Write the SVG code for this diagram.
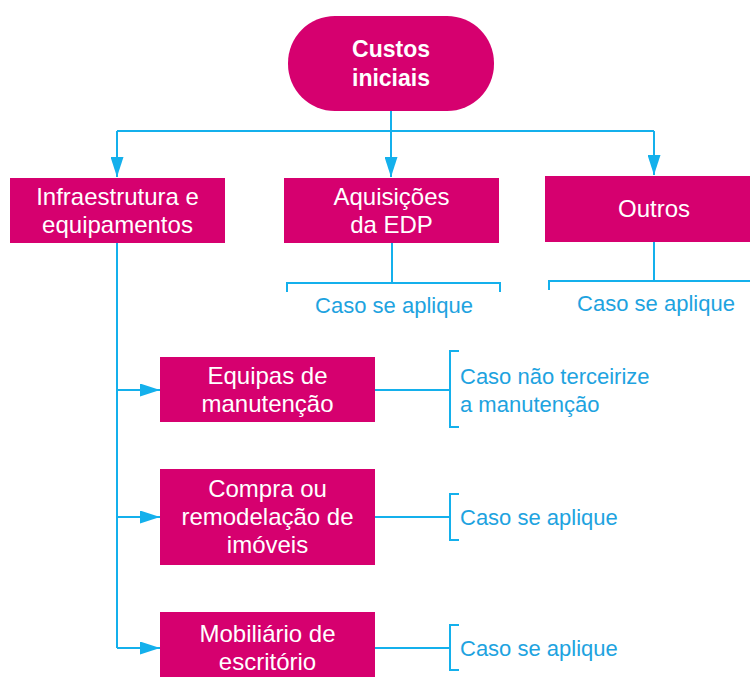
<svg xmlns="http://www.w3.org/2000/svg" width="750" height="677" viewBox="0 0 750 677">
  <defs>
    <style>
      .box { fill: #D6006F; }
      .bt { font-family: "Liberation Sans", Arial, sans-serif; font-size: 24px; fill: #FFFFFF; text-anchor: middle; }
      .tt { font-family: "Liberation Sans", Arial, sans-serif; font-size: 23px; font-weight: bold; fill: #FFFFFF; text-anchor: middle; }
      .lb { font-family: "Liberation Sans", Arial, sans-serif; font-size: 22px; fill: #1EA3E0; }
      .ln { fill: none; stroke: #14B0EC; stroke-width: 2; }
    </style>
    <marker id="arr" viewBox="0 0 20 13" refX="20" refY="6.5" markerWidth="20" markerHeight="13" markerUnits="userSpaceOnUse" orient="auto">
      <path d="M0,0 L20,6.5 L0,13 Z" fill="#14B0EC"/>
    </marker>
  </defs>
  <rect width="750" height="677" fill="#FFFFFF"/>

  <g id="connectors">
    <path class="ln" d="M391,111 V177" marker-end="url(#arr)" stroke-width="2.5"/>
    <path class="ln" d="M117,131 H654"/>
    <path class="ln" d="M117,131 V177" marker-end="url(#arr)"/>
    <path class="ln" d="M654,131 V175" marker-end="url(#arr)"/>
    <path class="ln" d="M392,243 V283"/>
    <path class="ln" d="M287,292 V283 H500 V292"/>
    <path class="ln" d="M654,242 V281"/>
    <path class="ln" d="M549,290 V281 H752"/>
    <path class="ln" d="M117,243 V648"/>
    <path class="ln" d="M117,390 H160" marker-end="url(#arr)"/>
    <path class="ln" d="M117,517 H160" marker-end="url(#arr)"/>
    <path class="ln" d="M117,648 H160" marker-end="url(#arr)"/>
    <path class="ln" d="M375,390 H450"/>
    <path class="ln" d="M459,351 H450 V427 H459"/>
    <path class="ln" d="M375,517 H450"/>
    <path class="ln" d="M459,494 H450 V540 H459"/>
    <path class="ln" d="M375,648 H450"/>
    <path class="ln" d="M459,625 H450 V670 H459"/>
  </g>

  <g id="custos-iniciais">
    <rect class="box" x="288" y="16" width="206" height="95" rx="47" ry="47"/>
    <text class="tt" x="391" y="57">Custos</text>
    <text class="tt" x="391" y="86">iniciais</text>
  </g>

  <g id="infraestrutura">
    <rect class="box" x="10" y="178" width="215" height="65"/>
    <text class="bt" x="117.5" y="205">Infraestrutura e</text>
    <text class="bt" x="117.5" y="233">equipamentos</text>
  </g>

  <g id="aquisicoes">
    <rect class="box" x="284" y="178" width="215" height="65"/>
    <text class="bt" x="391.5" y="205">Aquisições</text>
    <text class="bt" x="391.5" y="233">da EDP</text>
  </g>

  <g id="outros">
    <rect class="box" x="545" y="176" width="215" height="66"/>
    <text class="bt" x="654" y="217">Outros</text>
  </g>

  <g id="label-aquisicoes">
    <text class="lb" x="394" y="313" text-anchor="middle">Caso se aplique</text>
  </g>
  <g id="label-outros">
    <text class="lb" x="656" y="311" text-anchor="middle">Caso se aplique</text>
  </g>

  <g id="equipas">
    <rect class="box" x="160" y="357" width="215" height="65"/>
    <text class="bt" x="267.5" y="384">Equipas de</text>
    <text class="bt" x="267.5" y="412">manutenção</text>
  </g>
  <g id="label-equipas">
    <text class="lb" x="460" y="384">Caso não terceirize</text>
    <text class="lb" x="460" y="412">a manutenção</text>
  </g>

  <g id="compra">
    <rect class="box" x="160" y="469" width="215" height="96"/>
    <text class="bt" x="267.5" y="497">Compra ou</text>
    <text class="bt" x="267.5" y="525">remodelação de</text>
    <text class="bt" x="267.5" y="553">imóveis</text>
  </g>
  <g id="label-compra">
    <text class="lb" x="460" y="525">Caso se aplique</text>
  </g>

  <g id="mobiliario">
    <rect class="box" x="160" y="612" width="215" height="72"/>
    <text class="bt" x="267.5" y="642">Mobiliário de</text>
    <text class="bt" x="267.5" y="670">escritório</text>
  </g>
  <g id="label-mobiliario">
    <text class="lb" x="460" y="656">Caso se aplique</text>
  </g>
</svg>
